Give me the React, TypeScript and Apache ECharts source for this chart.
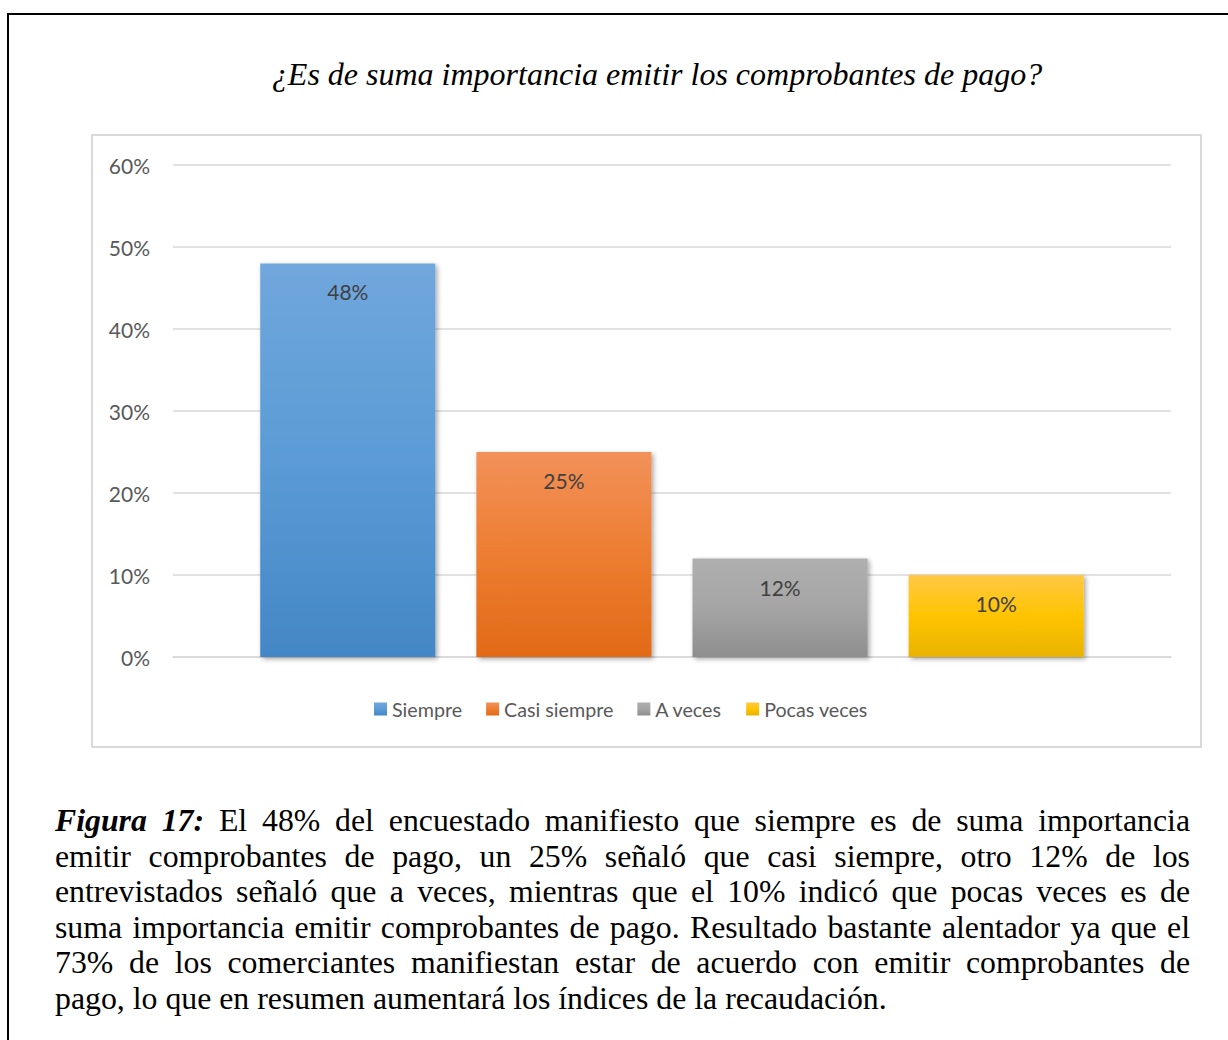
import React, { useEffect, useRef } from "react";
import * as echarts from "echarts";

const TITLE = "¿Es de suma importancia emitir los comprobantes de pago?";
const CATEGORIES = ["Respuesta"];
const SERIES_NAMES = ["Siempre", "Casi siempre", "A veces", "Pocas veces"];
const SERIES_VALUES = [48, 25, 12, 10];
const Y_TICKS = [0, 10, 20, 30, 40, 50, 60];
const GRADIENTS = [
  ["#70a7dd", "#5b9bd5", "#4487c6"],
  ["#f2915a", "#ed7d31", "#e26a17"],
  ["#afafaf", "#a5a5a5", "#8e8e8e"],
  ["#ffc845", "#ffc400", "#e8b300"],
];
const CAPTION_LINES = [
  "El 48% del encuestado manifiesto que siempre es de suma importancia",
  "emitir comprobantes de pago, un 25% señaló que casi siempre, otro 12% de los",
  "entrevistados señaló que a veces, mientras que el 10% indicó que pocas veces es de",
  "suma importancia emitir comprobantes de pago. Resultado bastante alentador ya que el",
  "73% de los comerciantes manifiestan estar de acuerdo con emitir comprobantes de",
  "pago, lo que en resumen aumentará los índices de la recaudación.",
];
const CAPTION_LEAD = "Figura 17:";

const FONT = "Lato, 'Open Sans', sans-serif";
const SERIF = "'Liberation Serif', 'Times New Roman', serif";

function Chart() {
  const ref = useRef<HTMLDivElement>(null);
  useEffect(() => {
    if (!ref.current) return;
    const chart = echarts.init(ref.current, null, { renderer: "svg" });
    const series = SERIES_NAMES.map((name, i) => ({
      name,
      type: "bar",
      data: [SERIES_VALUES[i]],
      barWidth: "17.55%",
      barGap: "23.4%",
      itemStyle: {
        color: new echarts.graphic.LinearGradient(0, 0, 0, 1, [
          { offset: 0, color: GRADIENTS[i][0] },
          { offset: 0.5, color: GRADIENTS[i][1] },
          { offset: 1, color: GRADIENTS[i][2] },
        ]),
        shadowBlur: 5,
        shadowOffsetX: 2,
        shadowOffsetY: 2,
        shadowColor: "rgba(0,0,0,0.35)",
      },
      label: {
        show: true,
        position: "insideTop",
        distance: 18,
        formatter: "{c}%",
        color: "#404040",
        fontSize: 21,
        fontFamily: FONT,
      },
    }));
    chart.setOption({
      animation: false,
      backgroundColor: "transparent",
      graphic: [
        {
          type: "rect",
          shape: { x: 92, y: 135, width: 1109, height: 612 },
          style: { fill: "none", stroke: "#d9d9d9", lineWidth: 2 },
          silent: true,
        },
        {
          type: "text",
          x: 657,
          y: 74,
          style: {
            text: TITLE,
            fill: "#000000",
            font: `italic 32px ${SERIF}`,
            textAlign: "center",
            textVerticalAlign: "middle",
          },
        },
      ],
      legend: {
        data: SERIES_NAMES,
        left: 369,
        top: 694,
        icon: "rect",
        itemWidth: 13,
        itemHeight: 13,
        itemGap: 24,
        textStyle: { color: "#595959", fontSize: 19.7, fontFamily: FONT },
      },
      grid: {
        left: 173,
        right: 57,
        top: 165,
        bottom: 123,
        containLabel: false,
        outerBoundsMode: "none",
      },
      xAxis: {
        type: "category",
        data: CATEGORIES,
        axisLine: { show: true, lineStyle: { color: "#d9d9d9", width: 1.5 } },
        axisTick: { show: false },
        axisLabel: { show: false },
      },
      yAxis: {
        type: "value",
        min: Y_TICKS[0],
        max: Y_TICKS[Y_TICKS.length - 1],
        interval: Y_TICKS[1] - Y_TICKS[0],
        axisLine: { show: false },
        axisTick: { show: false },
        axisLabel: {
          formatter: "{value}%",
          color: "#595959",
          fontSize: 21,
          fontFamily: FONT,
          margin: 23,
        },
        splitLine: { lineStyle: { color: "#d9d9d9", width: 1.5 } },
      },
      series,
    });
    return () => chart.dispose();
  }, []);
  return (
    <div
      ref={ref}
      style={{ position: "absolute", left: 0, top: 0, width: 1228, height: 780 }}
    />
  );
}

export default function App() {
  const lineStyle = (last: boolean): React.CSSProperties =>
    ({
      textAlign: "justify",
      textAlignLast: last ? "left" : "justify",
      whiteSpace: "nowrap",
      height: 35.6,
    } as React.CSSProperties);
  return (
    <div
      style={{
        position: "fixed",
        left: 0,
        top: 0,
        width: 1228,
        height: 1040,
        overflow: "hidden",
        background: "#ffffff",
      }}
    >
      <div
        style={{
          position: "absolute",
          left: 7,
          top: 13,
          width: 1400,
          height: 1200,
          borderLeft: "2px solid #000",
          borderTop: "2px solid #000",
        }}
      />
      <Chart />
      <div
        style={{
          position: "absolute",
          left: 55,
          top: 803,
          width: 1135,
          fontFamily: SERIF,
          fontSize: 31.8,
          lineHeight: "35.6px",
          color: "#000",
        }}
      >
        {CAPTION_LINES.map((line, i) => (
          <div key={i} style={lineStyle(i === CAPTION_LINES.length - 1)}>
            {i === 0 ? (
              <>
                <b>
                  <i>{CAPTION_LEAD}</i>
                </b>{" "}
                {line}
              </>
            ) : (
              line
            )}
          </div>
        ))}
      </div>
    </div>
  );
}
